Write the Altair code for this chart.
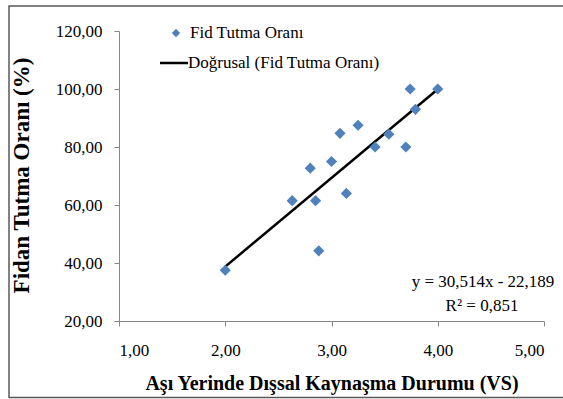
import altair as alt
import pandas as pd

# Data
vs = [2.00, 2.63, 2.80, 2.85, 2.88, 3.00, 3.08, 3.14, 3.25, 3.41, 3.54, 3.70, 3.74, 3.79, 4.00]
tutma = [37.5, 61.5, 72.7, 61.5, 44.2, 75.0, 84.7, 64.0, 87.5, 80.0, 84.4, 80.0, 100.0, 93.0, 100.0]
x_ticks = [1, 2, 3, 4, 5]
y_ticks = [20, 40, 60, 80, 100, 120]
legend_labels = ["Fid Tutma Oranı", "Doğrusal (Fid Tutma Oranı)"]
eq_lines = ["y = 30,514x - 22,189", "R² = 0,851"]

df = pd.DataFrame({"x": vs, "y": tutma})

FONT = "Liberation Serif"
W, H = 425, 290
comma_fmt = "replace(format(datum.value, '.2f'), '.', ',')"

xs = alt.Scale(domain=[1, 5], nice=False)
ys = alt.Scale(domain=[20, 120], nice=False)

x_axis = alt.Axis(values=x_ticks, labelExpr=comma_fmt, grid=False,
                  title="Aşı Yerinde Dışsal Kaynaşma Durumu (VS)",
                  titleFont=FONT, titleFontSize=20, titleFontWeight="bold",
                  titleColor="black", titlePadding=15,
                  labelFont=FONT, labelFontSize=17, labelColor="black",
                  labelPadding=16, tickSize=5, tickColor="#868686",
                  domainColor="#868686")
y_axis = alt.Axis(values=y_ticks, labelExpr=comma_fmt, grid=False,
                  title="Fidan Tutma Oranı (%)",
                  titleFont=FONT, titleFontSize=23, titleFontWeight="bold",
                  titleColor="black", titleX=-98, titleY=144,
                  titleAlign="center", titleBaseline="middle", titleAngle=-90,
                  labelFont=FONT, labelFontSize=17, labelColor="black",
                  labelPadding=12, tickSize=5, tickColor="#868686",
                  domainColor="#868686")

base = alt.Chart(df)

points = base.mark_point(shape="diamond", filled=True, size=125,
                         color="#4F81BD", opacity=1).encode(
    x=alt.X("x:Q", scale=xs, axis=x_axis),
    y=alt.Y("y:Q", scale=ys, axis=y_axis),
)

trend = base.transform_regression("x", "y").mark_line(
    color="black", strokeWidth=2.5).encode(
    x=alt.X("x:Q", scale=xs),
    y=alt.Y("y:Q", scale=ys),
)

# Legend (manual, Excel-like)
leg1 = pd.DataFrame({"label": [legend_labels[0]]})
leg2 = pd.DataFrame({"label": [legend_labels[1]]})
leg_sym = alt.Chart(leg1).mark_point(shape="diamond", filled=True, size=70,
                                     color="#4F81BD", opacity=1).encode(
    x=alt.value(57), y=alt.value(2))
leg_txt1 = alt.Chart(leg1).mark_text(font=FONT, fontSize=17, align="left",
                                     baseline="middle", color="black").encode(
    x=alt.value(71), y=alt.value(2), text="label:N")
leg_line = alt.Chart(leg2).mark_rule(color="black", strokeWidth=2.5).encode(
    x=alt.value(41), x2=alt.value(69), y=alt.value(32))
leg_txt2 = alt.Chart(leg2).mark_text(font=FONT, fontSize=17, align="left",
                                     baseline="middle", color="black").encode(
    x=alt.value(69), y=alt.value(32), text="label:N")

# Equation annotation
eq1 = alt.Chart(pd.DataFrame({"t": [eq_lines[0]]})).mark_text(
    font=FONT, fontSize=17, align="center", baseline="middle", color="black").encode(
    x=alt.value(364), y=alt.value(251), text="t:N")
eq2 = alt.Chart(pd.DataFrame({"t": [eq_lines[1]]})).mark_text(
    font=FONT, fontSize=17, align="center", baseline="middle", color="black").encode(
    x=alt.value(363), y=alt.value(275), text="t:N")

# Outer chart-area border
border = alt.Chart(pd.DataFrame({"b": [1]})).mark_rect(
    fill=None, stroke="#595959", strokeWidth=1.5).encode(
    x=alt.value(-110), x2=alt.value(W + 60), y=alt.value(-25), y2=alt.value(366.5))

chart = alt.layer(border, trend, points, leg_sym, leg_txt1, leg_line, leg_txt2,
                  eq1, eq2).properties(
    width=W, height=H,
    autosize=alt.AutoSizeParams(type="none"),
    padding={"left": 119, "top": 31, "right": 19, "bottom": 78},
    background="white",
).configure_view(stroke=None)

chart.save("out.html", embed_options={"renderer": "svg", "actions": False})
